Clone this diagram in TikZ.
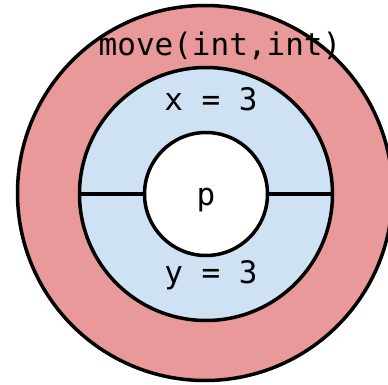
\documentclass[tikz,border=0pt]{standalone}
\usepackage{fontspec}
\setmonofont{DejaVu Sans Mono}
\usetikzlibrary{positioning}

\definecolor{frameRed}{RGB}{233,153,153}
\definecolor{frameBlue}{RGB}{207,226,243}

\begin{document}
\begin{tikzpicture}[
    x=1pt, y=1pt,
    ring/.style={circle, draw=black, line width=3.5pt, inner sep=0pt},
    label/.style={font=\ttfamily\fontsize{31}{36}\selectfont, anchor=base, inner sep=0pt},
    line/.style={line width=3.5pt},
]
\useasboundingbox (0,0) rectangle (388,384);

%% NODES
    % scopes from outside in
    \node[ring, fill=frameRed, minimum size=375pt] (outer) at (205,191) {};
    \node[ring, fill=frameBlue, minimum size=253pt] (mid) at (206,190) {};
    \node[ring, fill=white, minimum size=123pt] (inner) at (206,190) {};

    % texts
    \node[label] (method) at (220,329) {move(int,int)};
    \node[label] (xval) at (211,274) {x = 3};
    \node[label] (yval) at (211,101) {y = 3};
    \node[label] (point) at (206,179) {p};

%% CONNECTIONS
    % split of the middle ring
    \draw[line] (mid.west) -- (inner.west);
    \draw[line] (inner.east) -- (mid.east);

\end{tikzpicture}
\end{document}
